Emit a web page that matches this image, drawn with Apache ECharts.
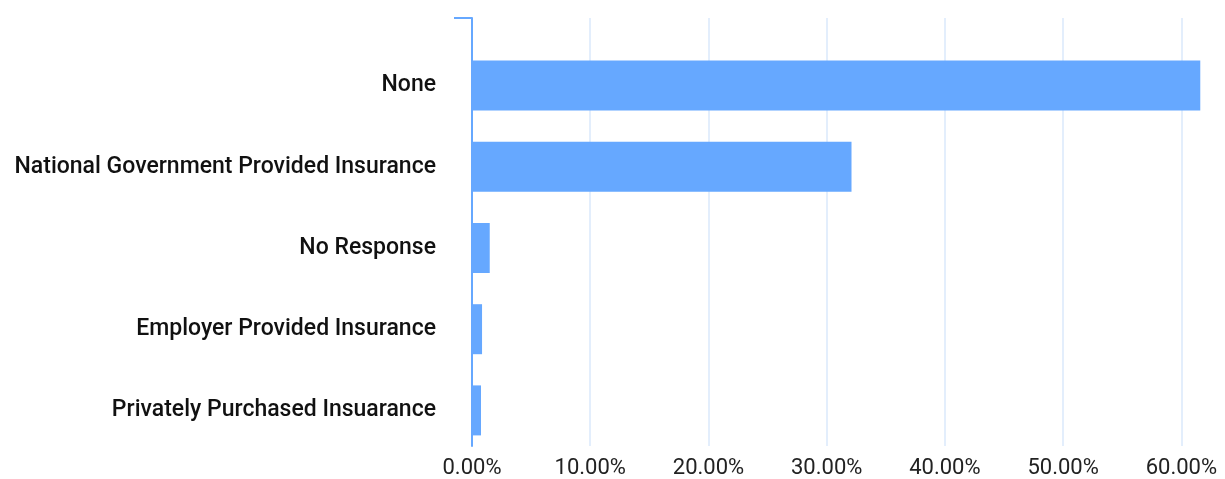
<!DOCTYPE html>
<html>
<head>
<meta charset="utf-8">
<script src="https://cdn.jsdelivr.net/npm/echarts@6/dist/echarts.min.js"></script>
<style>
  html, body { margin: 0; padding: 0; background: #fff; }
  #chart { width: 1225px; height: 479px; }
</style>
</head>
<body>
<div id="chart"></div>
<script>
// categories, top to bottom (spelling as in the source)
var categories = [
    'None',
    'National Government Provided Insurance',
    'No Response',
    'Employer Provided Insurance',
    'Privately Purchased Insuarance'
];
// share of respondents, percent
var shares = [61.6, 32.1, 1.5, 0.85, 0.76];
var tickValues = [0, 10, 20, 30, 40, 50, 60];

var barColor = '#66a8ff';
var axisMax = 62;

var myChart = echarts.init(document.getElementById('chart'));
myChart.setOption({
    backgroundColor: '#fff',
    animation: false,
    grid: [
        // axis frame + split lines
        { left: 472, right: 20, top: 18, bottom: 32 },
        // bars
        { left: 472, right: 20, top: 45, bottom: 28 }
    ],
    xAxis: [
        {
            gridIndex: 0,
            type: 'value',
            min: 0,
            max: axisMax,
            axisLine: { show: false },
            axisTick: { show: false, customValues: tickValues },
            splitLine: { show: true, lineStyle: { color: '#e3eefc', width: 2 } },
            axisLabel: {
                customValues: tickValues,
                margin: 11,
                color: '#222',
                fontFamily: 'Roboto',
                fontSize: 22,
                formatter: function (v) { return v.toFixed(2) + '%'; }
            }
        },
        {
            gridIndex: 1,
            type: 'value',
            min: 0,
            max: axisMax,
            show: false
        }
    ],
    yAxis: [
        {
            gridIndex: 0,
            type: 'value',
            min: 0,
            max: 1,
            axisLine: { show: true, lineStyle: { color: '#66a8ff', width: 2 } },
            axisTick: { show: true, length: 18, customValues: [1], lineStyle: { color: '#66a8ff', width: 2 } },
            axisLabel: { show: false },
            splitLine: { show: false }
        },
        {
            gridIndex: 1,
            type: 'category',
            inverse: true,
            data: categories,
            axisLine: { show: false },
            axisTick: { show: false },
            axisLabel: {
                margin: 36,
                padding: [4, 0, 0, 0],
                color: '#111',
                fontFamily: 'Roboto',
                fontWeight: 500,
                fontSize: 23
            }
        }
    ],
    series: [
        {
            type: 'bar',
            xAxisIndex: 1,
            yAxisIndex: 1,
            data: shares,
            barWidth: 50,
            itemStyle: { color: barColor }
        }
    ]
});
</script>
</body>
</html>
